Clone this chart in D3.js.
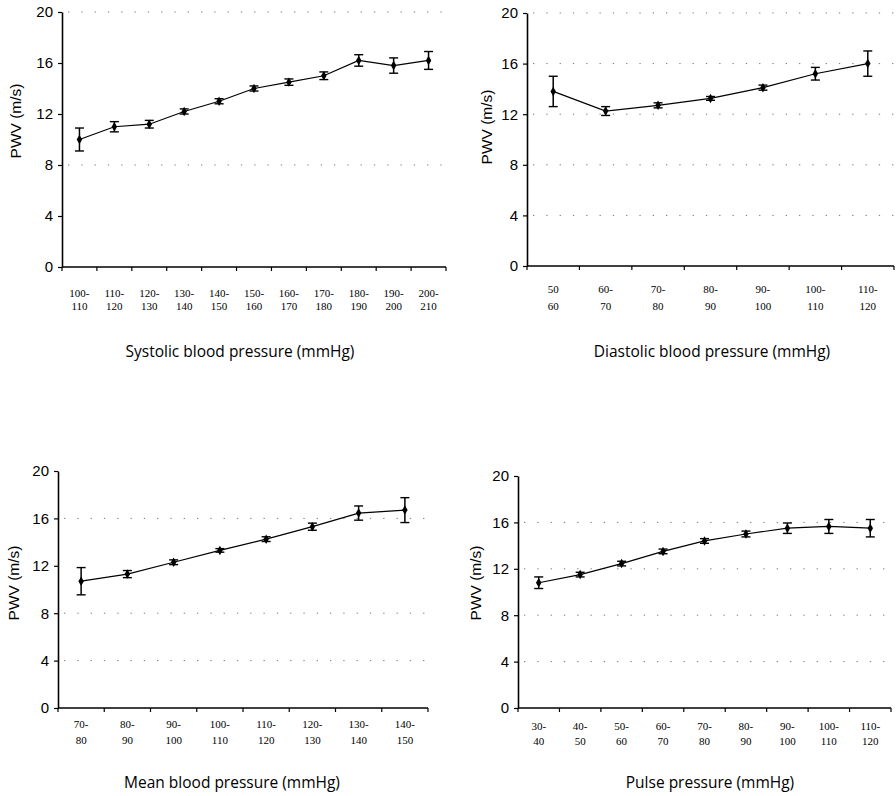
<!DOCTYPE html>
<html>
<head>
<meta charset="utf-8">
<script src="https://cdn.jsdelivr.net/npm/d3@7"></script>
<style>
  body { margin: 0; background: #fff; }
  .tick text { fill: #000; }
</style>
</head>
<body>
<div id="chart"></div>
<script>
// PWV by blood pressure band, mean and error bar half-width
var yTicks = [0, 4, 8, 12, 16, 20];

var sysCats = ["100-\n110", "110-\n120", "120-\n130", "130-\n140", "140-\n150", "150-\n160", "160-\n170", "170-\n180", "180-\n190", "190-\n200", "200-\n210"];
var sysPwv  = [10.0, 11.0, 11.2, 12.2, 13.0, 14.0, 14.5, 15.0, 16.2, 15.8, 16.2];
var sysErr  = [0.9, 0.4, 0.3, 0.2, 0.2, 0.2, 0.25, 0.3, 0.45, 0.6, 0.7];
var sysGrid = [20, 8];

var diaCats = ["50\n60", "60-\n70", "70-\n80", "80-\n90", "90-\n100", "100-\n110", "110-\n120"];
var diaPwv  = [13.8, 12.25, 12.7, 13.25, 14.1, 15.2, 16.0];
var diaErr  = [1.2, 0.35, 0.2, 0.15, 0.2, 0.5, 1.0];
var diaGrid = [20, 16, 12, 8, 4];

var meanCats = ["70-\n80", "80-\n90", "90-\n100", "100-\n110", "110-\n120", "120-\n130", "130-\n140", "140-\n150"];
var meanPwv  = [10.7, 11.3, 12.3, 13.3, 14.25, 15.3, 16.45, 16.7];
var meanErr  = [1.15, 0.3, 0.2, 0.15, 0.2, 0.3, 0.6, 1.05];
var meanGrid = [16, 8, 4];

var pulseCats = ["30-\n40", "40-\n50", "50-\n60", "60-\n70", "70-\n80", "80-\n90", "90-\n100", "100-\n110", "110-\n120"];
var pulsePwv  = [10.8, 11.5, 12.45, 13.5, 14.4, 15.0, 15.5, 15.65, 15.5];
var pulseErr  = [0.5, 0.2, 0.2, 0.2, 0.2, 0.25, 0.45, 0.6, 0.75];
var pulseGrid = [16, 12, 8, 4];

var panels = [
  {cats: sysCats, pwv: sysPwv, err: sysErr, grid: sysGrid, title: "Systolic blood pressure (mmHg)",
   x0: 62, x1: 446, yTop: 12, yBot: 267, l1: 30, l2: 43, titleX: 240, titleY: 357, labX: 21, labY: 121},
  {cats: diaCats, pwv: diaPwv, err: diaErr, grid: diaGrid, title: "Diastolic blood pressure (mmHg)",
   x0: 527, x1: 894, yTop: 13, yBot: 266, l1: 27, l2: 44, titleX: 712, titleY: 357, labX: 492, labY: 127},
  {cats: meanCats, pwv: meanPwv, err: meanErr, grid: meanGrid, title: "Mean blood pressure (mmHg)",
   x0: 58, x1: 428, yTop: 471, yBot: 708, l1: 20, l2: 36, titleX: 232, titleY: 788, labX: 19, labY: 583},
  {cats: pulseCats, pwv: pulsePwv, err: pulseErr, grid: pulseGrid, title: "Pulse pressure (mmHg)",
   x0: 518, x1: 891, yTop: 476, yBot: 708, l1: 22, l2: 37, titleX: 710, titleY: 788, labX: 481, labY: 583}
];

var svg = d3.select("#chart").append("svg")
    .attr("width", 896)
    .attr("height", 796);

panels.forEach(drawPanel);

function drawPanel(p) {
  var x = d3.scaleBand().domain(p.cats).range([p.x0, p.x1]).paddingInner(0).paddingOuter(0);
  var y = d3.scaleLinear().domain([0, 20]).range([p.yBot, p.yTop]);
  var g = svg.append("g");

  // dotted gridlines (sparse, like the scan)
  g.selectAll(".grid").data(p.grid).enter().append("line")
    .attr("x1", p.x0 + 6).attr("x2", p.x1)
    .attr("y1", function(d) { return y(d); })
    .attr("y2", function(d) { return y(d); })
    .attr("stroke", "#777")
    .attr("stroke-width", 1)
    .attr("stroke-dasharray", "1.3,12");

  // y axis
  var yAxis = g.append("g")
    .attr("transform", "translate(" + p.x0 + ",0)")
    .call(d3.axisLeft(y).tickValues(yTicks).tickSize(4).tickPadding(5).tickSizeOuter(0));
  yAxis.select(".domain").attr("stroke", "#000").attr("stroke-width", 1.6);
  yAxis.selectAll(".tick line").attr("stroke", "#000").attr("stroke-width", 1.2);
  yAxis.selectAll(".tick text")
    .style("font-family", "'Liberation Sans', Arial, sans-serif")
    .style("font-size", "15px");

  // x axis: ticks at band boundaries
  g.append("line")
    .attr("x1", p.x0).attr("x2", p.x1)
    .attr("y1", p.yBot).attr("y2", p.yBot)
    .attr("stroke", "#000").attr("stroke-width", 1.6);
  var bounds = p.cats.map(function(c) { return x(c); }).concat([p.x1]);
  g.selectAll(".xt").data(bounds).enter().append("line")
    .attr("x1", function(d) { return d; })
    .attr("x2", function(d) { return d; })
    .attr("y1", p.yBot).attr("y2", p.yBot + 4)
    .attr("stroke", "#000").attr("stroke-width", 1.2);

  var lab = g.selectAll(".xl").data(p.cats).enter().append("text")
    .attr("text-anchor", "middle")
    .style("font-family", "'Liberation Serif', 'Times New Roman', serif")
    .style("font-size", "11px")
    .attr("fill", "#000");
  lab.each(function(c) {
    var t = d3.select(this);
    var cx = x(c) + x.bandwidth() / 2;
    c.split("\n").forEach(function(s, i) {
      t.append("tspan").attr("x", cx).attr("y", p.yBot + (i ? p.l2 : p.l1)).text(s);
    });
  });

  // line
  var pts = p.cats.map(function(c, i) { return {c: c, v: p.pwv[i], e: p.err[i]}; });
  var line = d3.line()
    .x(function(d) { return x(d.c) + x.bandwidth() / 2; })
    .y(function(d) { return y(d.v); });
  g.append("path").datum(pts)
    .attr("d", line)
    .attr("fill", "none")
    .attr("stroke", "#000")
    .attr("stroke-width", 1.2);

  // error bars
  var eb = g.selectAll(".eb").data(pts).enter().append("g")
    .attr("transform", function(d) { return "translate(" + (x(d.c) + x.bandwidth() / 2) + ",0)"; });
  eb.append("line")
    .attr("y1", function(d) { return y(d.v + d.e); })
    .attr("y2", function(d) { return y(d.v - d.e); })
    .attr("stroke", "#000").attr("stroke-width", 1.5);
  eb.append("line").attr("x1", -4.5).attr("x2", 4.5)
    .attr("y1", function(d) { return y(d.v + d.e); })
    .attr("y2", function(d) { return y(d.v + d.e); })
    .attr("stroke", "#000").attr("stroke-width", 1.4);
  eb.append("line").attr("x1", -4.5).attr("x2", 4.5)
    .attr("y1", function(d) { return y(d.v - d.e); })
    .attr("y2", function(d) { return y(d.v - d.e); })
    .attr("stroke", "#000").attr("stroke-width", 1.4);
  eb.append("path")
    .attr("d", d3.symbol().type(d3.symbolDiamond).size(26))
    .attr("transform", function(d) { return "translate(0," + y(d.v) + ")"; })
    .attr("fill", "#000");

  // axis titles
  g.append("text")
    .attr("x", p.titleX).attr("y", p.titleY)
    .attr("text-anchor", "middle")
    .style("font-family", "'Open Sans', 'Noto Sans', sans-serif")
    .style("font-size", "15.5px")
    .attr("fill", "#000")
    .text(p.title);

  g.append("text")
    .attr("transform", "translate(" + p.labX + "," + p.labY + ") rotate(-90)")
    .attr("text-anchor", "middle")
    .style("font-family", "'Liberation Sans', Arial, sans-serif")
    .style("font-size", "15.5px")
    .attr("fill", "#000")
    .text("PWV (m/s)");
}
</script>
</body>
</html>
